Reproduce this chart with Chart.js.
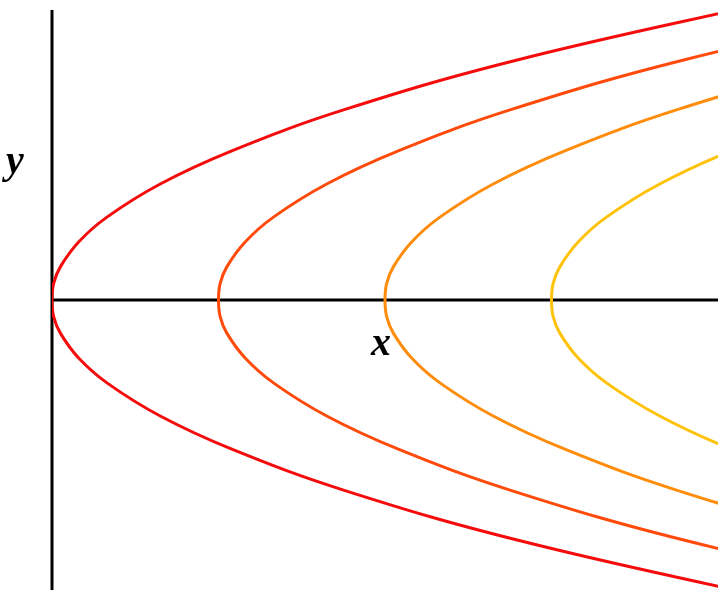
<!DOCTYPE html>
<html>
<head>
<meta charset="utf-8">
<script src="https://cdn.jsdelivr.net/npm/chart.js@4"></script>
<style>
  html, body { margin: 0; padding: 0; background: #fff; }
  #wrap { width: 728px; height: 601px; }
</style>
</head>
<body>
<div id="wrap"><canvas id="parabolas"></canvas></div>
<script>
// y samples shared by all four curves
const ySamples = [-1.8, -1.45, -1.15, -0.9, -0.7, -0.5, -0.35, -0.2, -0.1, 0,
                  0.1, 0.2, 0.35, 0.5, 0.7, 0.9, 1.15, 1.45, 1.8];

// x positions of each curve at those y values
const xCurve1 = [4.32, 2.80, 1.76, 1.08, 0.65, 0.33, 0.16, 0.05, 0.01, 0,
                 0.01, 0.05, 0.16, 0.33, 0.65, 1.08, 1.76, 2.80, 4.32];
const xCurve2 = [5.32, 3.80, 2.76, 2.08, 1.65, 1.33, 1.16, 1.05, 1.01, 1,
                 1.01, 1.05, 1.16, 1.33, 1.65, 2.08, 2.76, 3.80, 5.32];
const xCurve3 = [6.32, 4.80, 3.76, 3.08, 2.65, 2.33, 2.16, 2.05, 2.01, 2,
                 2.01, 2.05, 2.16, 2.33, 2.65, 3.08, 3.76, 4.80, 6.32];
const xCurve4 = [7.32, 5.80, 4.76, 4.08, 3.65, 3.33, 3.16, 3.05, 3.01, 3,
                 3.01, 3.05, 3.16, 3.33, 3.65, 4.08, 4.76, 5.80, 7.32];

const curveColors = ['#f40c0c', '#ff4a0a', '#ff8c0a', '#ffc20a'];

const xRange = [0, 4];
const yRange = [-1.75, 1.75];

function toPoints(xs) {
    return xs.map((x, i) => ({ x: x, y: ySamples[i] }));
}

const curves = [xCurve1, xCurve2, xCurve3, xCurve4].map((xs, i) => ({
    data: toPoints(xs),
    borderColor: curveColors[i],
    borderWidth: 3,
    showLine: true,
    pointRadius: 0,
    tension: 0.4,
    fill: false
}));

// the two axis lines
const axisLines = [
    { data: [{ x: 0, y: yRange[0] }, { x: 0, y: yRange[1] }] },
    { data: [{ x: xRange[0], y: 0 }, { x: xRange[1], y: 0 }] }
].map(d => ({ ...d, borderColor: '#000', borderWidth: 3, showLine: true, pointRadius: 0, clip: 4 }));

const axisLabels = {
    id: 'axisLabels',
    afterDraw(chart) {
        const ctx = chart.ctx;
        ctx.save();
        ctx.fillStyle = '#000';
        ctx.font = 'italic bold 40px "Liberation Serif", "DejaVu Serif", serif';
        ctx.textBaseline = 'alphabetic';
        ctx.fillText('y', 6, 173);
        ctx.fillText('x', 371, 355);
        ctx.restore();
    }
};

new Chart(document.getElementById('parabolas'), {
    type: 'scatter',
    data: { datasets: [...curves, ...axisLines] },
    options: {
        responsive: true,
        maintainAspectRatio: false,
        animation: false,
        layout: { padding: { left: 52, right: 10, top: 10, bottom: 11 } },
        plugins: { legend: { display: false }, tooltip: { enabled: false } },
        scales: {
            x: { type: 'linear', min: xRange[0], max: xRange[1], display: false },
            y: { type: 'linear', min: yRange[0], max: yRange[1], display: false }
        }
    },
    plugins: [axisLabels]
});
</script>
</body>
</html>
